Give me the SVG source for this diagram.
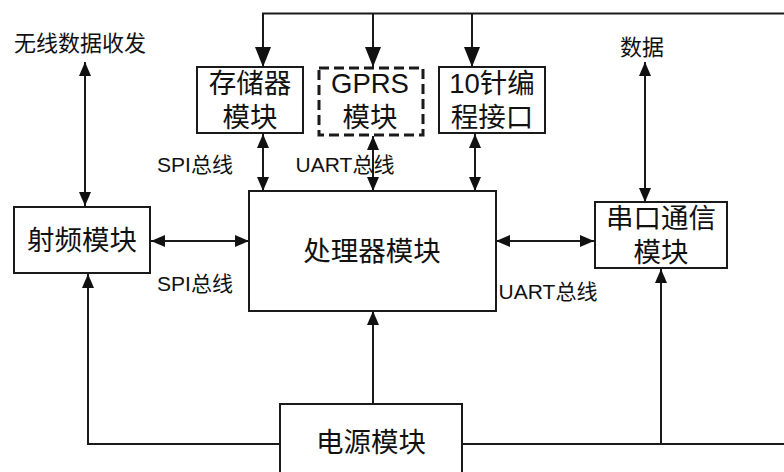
<svg xmlns="http://www.w3.org/2000/svg" width="784" height="472" viewBox="0 0 784 472">
<defs>
<style>
.box{fill:#fff;stroke:#1a1a1a;stroke-width:2}
.dash{fill:#fff;stroke:#1a1a1a;stroke-width:3;stroke-dasharray:10 5}
.ln{fill:none;stroke:#1a1a1a;stroke-width:2}
text{font-family:"Liberation Sans","Noto Sans CJK SC",sans-serif;fill:#111;text-anchor:middle;dominant-baseline:central}
.big{font-size:27.5px}
.lab{font-size:21px}
.sm{font-size:22px}
</style>
<marker id="A" markerUnits="userSpaceOnUse" markerWidth="20" markerHeight="16" refX="20" refY="8" orient="auto-start-reverse" viewBox="0 0 20 16">
<path d="M0,0 L20,8 L0,16 z" fill="#111"/>
</marker>
<marker id="B" markerUnits="userSpaceOnUse" markerWidth="14" markerHeight="12" refX="14" refY="6" orient="auto-start-reverse" viewBox="0 0 14 12">
<path d="M0,0 L14,6 L0,12 z" fill="#111"/>
</marker>
</defs>
<g id="connectors">
<path class="ln" d="M263,67 V13.5 H784"/>
<path class="ln" d="M373,13.5 V67" marker-end="url(#A)"/>
<path class="ln" d="M472,13.5 V67" marker-end="url(#A)"/>
<path class="ln" d="M263,30 V67" marker-end="url(#A)"/>
<path class="ln" d="M85,62 V206" marker-start="url(#B)" marker-end="url(#B)"/>
<path class="ln" d="M645,62 V202" marker-start="url(#B)" marker-end="url(#B)"/>
<path class="ln" d="M263,134 V191" marker-start="url(#B)" marker-end="url(#B)"/>
<path class="ln" d="M373,136 V191" marker-start="url(#B)" marker-end="url(#B)"/>
<path class="ln" d="M475,134 V191" marker-start="url(#B)" marker-end="url(#B)"/>
<path class="ln" d="M151,241 H249" marker-start="url(#B)" marker-end="url(#B)"/>
<path class="ln" d="M496,241 H594" marker-start="url(#B)" marker-end="url(#B)"/>
<path class="ln" d="M373,404 V311" marker-end="url(#B)"/>
<path class="ln" d="M280,444 H88 V274" marker-end="url(#B)"/>
<path class="ln" d="M462,444 H784"/>
<path class="ln" d="M661,444 V269" marker-end="url(#B)"/>
</g>
<text class="sm" x="80" y="43">无线数据收发</text>
<text class="sm" x="642" y="47">数据</text>
<text class="lab" x="195" y="164">SPI总线</text>
<text class="lab" x="345" y="164">UART总线</text>
<text class="lab" x="195" y="283">SPI总线</text>
<text class="lab" x="548" y="291">UART总线</text>
<g id="memory">
<rect class="box" x="197" y="67" width="106" height="66"/>
<text class="big" x="250" y="83">存储器</text>
<text class="big" x="250" y="117">模块</text>
</g>
<g id="gprs">
<rect class="dash" x="319" y="68" width="104" height="67"/>
<text class="big" x="370" y="83">GPRS</text>
<text class="big" x="370" y="117">模块</text>
</g>
<g id="prog">
<rect class="box" x="439" y="67" width="106" height="66"/>
<text class="big" x="492" y="83">10针编</text>
<text class="big" x="492" y="117">程接口</text>
</g>
<g id="rf">
<rect class="box" x="14" y="207" width="136" height="66"/>
<text class="big" x="82" y="240">射频模块</text>
</g>
<g id="cpu">
<rect class="box" x="249" y="191" width="247" height="120"/>
<text class="big" x="372" y="251">处理器模块</text>
</g>
<g id="serial">
<rect class="box" x="595" y="202" width="132" height="66"/>
<text class="big" x="661" y="218">串口通信</text>
<text class="big" x="661" y="252">模块</text>
</g>
<g id="power">
<rect class="box" x="280" y="404" width="182" height="80"/>
<text class="big" x="371" y="442">电源模块</text>
</g>
</svg>
